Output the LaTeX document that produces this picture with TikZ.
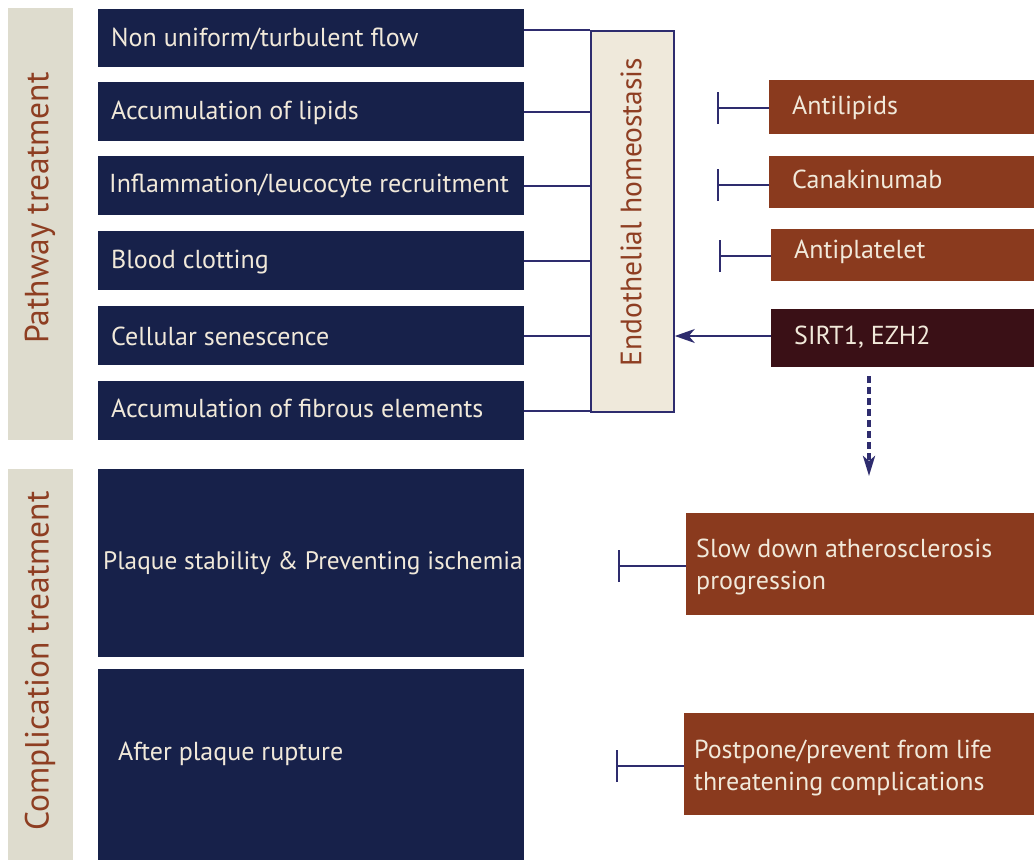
\documentclass[tikz,border=0pt]{standalone}
\usepackage{fontspec}
\setmainfont{PT Sans}
\usetikzlibrary{arrows.meta}
\definecolor{navy}{HTML}{17214A}
\definecolor{rust}{HTML}{8A3A1E}
\definecolor{maroon}{HTML}{3A1016}
\definecolor{tan}{HTML}{DEDCCE}
\definecolor{endofill}{HTML}{EFE9DB}
\definecolor{linec}{HTML}{2E2C6E}
\definecolor{cream}{HTML}{F1E9DA}
\definecolor{lblbrown}{HTML}{8E3E22}
\tikzset{
  dbox/.style={fill=navy, draw=none, anchor=north west, minimum width=426pt, inner sep=0pt},
  dtext/.style={text=cream, anchor=west, font=\fontsize{26}{30}\selectfont, inner sep=0pt},
  rbox/.style={fill=rust, draw=none, anchor=north west, inner sep=0pt},
  rtext/.style={text=cream, anchor=west, font=\fontsize{26}{32}\selectfont, inner sep=0pt, align=left},
  sidebar/.style={fill=tan, draw=none, anchor=north west, minimum width=65pt, inner sep=0pt},
  sidetext/.style={text=lblbrown, rotate=90, font=\fontsize{33.5}{36}\selectfont, inner sep=0pt},
  conn/.style={draw=linec, line width=1.8pt},
  inh/.style={conn, -{Bar[width=32pt, line width=1.8pt]}},
}
\begin{document}
\begin{tikzpicture}[x=1pt,y=-1pt]
\useasboundingbox (0,0) rectangle (1034,860);
% side bars
\node[sidebar, minimum height=432pt] (pw) at (8,8) {};
\node[sidetext] (pwt) at (40,208) {Pathway treatment};
\node[sidebar, minimum height=391pt] (ct) at (8,469) {};
\node[sidetext] (ctt) at (40,661) {Complication treatment};
% dark boxes
\node[dbox, minimum height=58pt] (b1) at (98,9) {};
\node[dbox, minimum height=59pt] (b2) at (98,82) {};
\node[dbox, minimum height=59pt] (b3) at (98,156) {};
\node[dbox, minimum height=59pt] (b4) at (98,231) {};
\node[dbox, minimum height=59pt] (b5) at (98,306) {};
\node[dbox, minimum height=59pt] (b6) at (98,381) {};
\node[dbox, minimum height=188pt] (b7) at (98,469) {};
\node[dbox, minimum height=191pt] (b8) at (98,669) {};
\node[dtext] (t1) at (111,39) {Non uniform/turbulent flow};
\node[dtext] (t2) at (111,113) {Accumulation of lipids};
\node[dtext] (t3) at (109,186) {Inflammation/leucocyte recruitment};
\node[dtext] (t4) at (111,262) {Blood clotting};
\node[dtext] (t5) at (111,336) {Cellular senescence};
\node[dtext] (t6) at (111,408) {Accumulation of fibrous elements};
\node[dtext, font=\fontsize{25.3}{30}\selectfont] (t7) at (103,563) {Plaque stability \& Preventing ischemia};
\node[dtext] (t8) at (118,754) {After plaque rupture};
% endothelial box
\node[draw=linec, line width=1.8pt, fill=endofill, anchor=north west, minimum width=83pt, minimum height=381pt, inner sep=0pt] (endo) at (590,30) {};
\node[text=lblbrown, rotate=90, font=\fontsize{29.5}{32}\selectfont, inner sep=0pt] (endot) at (631,212) {Endothelial homeostasis};
\draw[conn] (b1.east |- endo.north) -- (endo.north west);
\draw[conn] (b2.east) -- (b2.east -| endo.west);
\draw[conn] (b3.east) -- (b3.east -| endo.west);
\draw[conn] (b4.east) -- (b4.east -| endo.west);
\draw[conn] (b5.east) -- (b5.east -| endo.west);
\draw[conn] (b6.east) -- (b6.east -| endo.west);
% brown boxes
\node[rbox, minimum width=265pt, minimum height=54pt] (r1) at (769,80) {};
\node[rtext] (rt1) at (792,108) {Antilipids};
\node[rbox, minimum width=265pt, minimum height=52pt] (r2) at (769,156) {};
\node[rtext] (rt2) at (792,179) {Canakinumab};
\node[rbox, minimum width=263pt, minimum height=52pt] (r3) at (771,229) {};
\node[rtext] (rt3) at (794,252) {Antiplatelet};
\node[rbox, fill=maroon, minimum width=263pt, minimum height=58pt] (r4) at (771,309) {};
\node[rtext] (rt4) at (794,337) {SIRT1, EZH2};
\node[rbox, minimum width=348pt, minimum height=102pt] (r5) at (686,513) {};
\node[rtext] (rt5) at (696,567) {Slow down atherosclerosis\\progression};
\node[rbox, minimum width=350pt, minimum height=102pt] (r6) at (684,713) {};
\node[rtext] (rt6) at (694,768) {Postpone/prevent from life\\threatening complications};
% inhibitors
\coordinate (i1) at (717,108);
\coordinate (i2) at (717,185);
\coordinate (i3) at (719,256);
\coordinate (i5) at (618,566);
\coordinate (i6) at (616,766);
\draw[inh] (r1.west |- i1) -- (i1);
\draw[inh] (r2.west |- i2) -- (i2);
\draw[inh] (r3.west |- i3) -- (i3);
\draw[inh] (r5.west |- i5) -- (i5);
\draw[inh] (r6.west |- i6) -- (i6);
% arrows
\draw[conn, -{Stealth[length=20pt, width=14pt, inset=6pt]}] (r4.west |- 0,336) -- (endo.east |- 0,336);
\coordinate (ds) at (869,376);
\coordinate (de) at (869,476);
\draw[draw=linec, line width=3.5pt, dash pattern=on 7pt off 4pt, -{Stealth[length=20pt, width=12pt, inset=5pt]}] (ds) -- (de);
\end{tikzpicture}
\end{document}
